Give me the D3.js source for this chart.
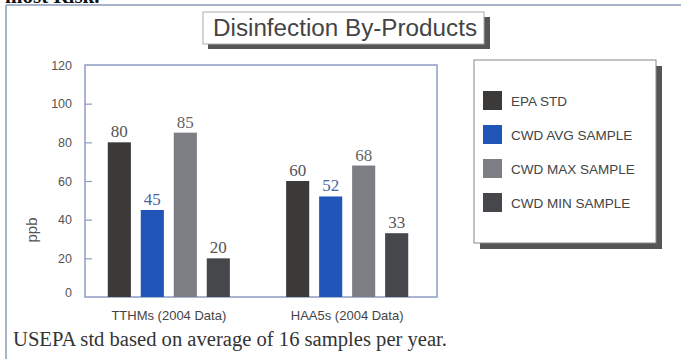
<!DOCTYPE html>
<html>
<head>
<meta charset="utf-8">
<script src="https://cdn.jsdelivr.net/npm/d3@7"></script>
<style>
  html, body { margin: 0; padding: 0; background: #fff; }
  svg { display: block; }
</style>
</head>
<body>
<svg id="chart" width="681" height="359"></svg>
<script>
// chart data
const groups = ['TTHMs (2004 Data)', 'HAA5s (2004 Data)'];
const seriesNames = ['EPA STD', 'CWD AVG SAMPLE', 'CWD MAX SAMPLE', 'CWD MIN SAMPLE'];
const tthmValues = [80, 45, 85, 20];
const haa5Values = [60, 52, 68, 33];
const yTicks = [0, 20, 40, 60, 80, 100, 120];
const seriesColors = ['#3c3a38', '#1f56b8', '#7d7e83', '#45474a'];
const labelColors = ['#555', '#4a64a0', '#666', '#555'];

const sans = '"Liberation Sans", Arial, sans-serif';
const serif = '"Liberation Serif", "Times New Roman", serif';

const svg = d3.select('#chart');

// page text cut off at the top
svg.append('text')
  .attr('x', 5).attr('y', 3)
  .attr('font-family', serif).attr('font-weight', 'bold').attr('font-size', 21)
  .attr('fill', '#111')
  .text('most Risk.');

// outer frame lines
svg.append('line').attr('x1', 6).attr('x2', 681).attr('y1', 5).attr('y2', 5)
  .attr('stroke', '#8d9bb8').attr('stroke-width', 1.5);
svg.append('line').attr('x1', 6).attr('x2', 6).attr('y1', 5).attr('y2', 359)
  .attr('stroke', '#8d9bb8').attr('stroke-width', 1.5);

// title box with shadow
svg.append('rect').attr('x', 208).attr('y', 17).attr('width', 282).attr('height', 32)
  .attr('fill', '#555');
svg.append('rect').attr('x', 203).attr('y', 12).attr('width', 281).attr('height', 32)
  .attr('fill', '#fff').attr('stroke', '#aaa').attr('stroke-width', 1);
svg.append('text')
  .attr('x', 213).attr('y', 36)
  .attr('font-family', sans).attr('font-size', 23)
  .attr('textLength', 264).attr('lengthAdjust', 'spacingAndGlyphs')
  .attr('fill', '#444')
  .text('Disinfection By-Products');

// plot area
const plot = {left: 85, right: 437, top: 65, bottom: 297};

const y = d3.scaleLinear().domain([0, 120]).range([plot.bottom, plot.top]);
const x0 = d3.scalePoint().domain(groups).range([plot.left, 431]).padding(0.47);
const x1 = d3.scaleBand().domain(seriesNames).range([-66, 66])
  .paddingInner(0.3).paddingOuter(0.15);

svg.append('rect')
  .attr('x', plot.left).attr('y', plot.top)
  .attr('width', plot.right - plot.left).attr('height', plot.bottom - plot.top)
  .attr('fill', 'none').attr('stroke', '#8c9cc2').attr('stroke-width', 1.5);

// y axis with inner ticks
const yAxis = svg.append('g')
  .attr('transform', `translate(${plot.left},0)`)
  .call(d3.axisLeft(y).tickValues(yTicks).tickSize(-7).tickPadding(13));
yAxis.select('.domain').remove();
yAxis.selectAll('.tick line')
  .attr('stroke', '#8c9cc2').attr('stroke-width', 1.2)
  .filter(d => d === 0 || d === 120).remove();
yAxis.selectAll('.tick text')
  .attr('font-family', sans).attr('font-size', 12.5).attr('fill', '#555')
  .attr('dy', d => d === 0 ? '-0.05em' : '0.32em');

svg.append('text')
  .attr('transform', 'translate(37,230) rotate(-90)')
  .attr('text-anchor', 'middle')
  .attr('font-family', sans).attr('font-size', 15).attr('fill', '#555')
  .text('ppb');

// bars
const rows = groups.map((g, gi) => ({
  group: g,
  values: gi === 0 ? tthmValues : haa5Values
}));

const groupG = svg.selectAll('.group')
  .data(rows)
  .enter().append('g')
  .attr('class', 'group')
  .attr('transform', d => `translate(${x0(d.group)},0)`);

const cells = d => d.values.map((v, i) => ({name: seriesNames[i], value: v, i}));

groupG.selectAll('rect')
  .data(cells)
  .enter().append('rect')
  .attr('x', d => x1(d.name))
  .attr('y', d => y(d.value))
  .attr('width', x1.bandwidth())
  .attr('height', d => y(0) - y(d.value))
  .attr('fill', d => seriesColors[d.i]);

groupG.selectAll('.value')
  .data(cells)
  .enter().append('text')
  .attr('class', 'value')
  .attr('x', d => x1(d.name) + x1.bandwidth() / 2)
  .attr('y', d => y(d.value) - 5)
  .attr('text-anchor', 'middle')
  .attr('font-family', serif).attr('font-size', 17)
  .attr('fill', d => labelColors[d.i])
  .text(d => d.value);

// x category labels
svg.selectAll('.xlabel')
  .data(groups)
  .enter().append('text')
  .attr('class', 'xlabel')
  .attr('x', d => x0(d))
  .attr('y', 320)
  .attr('text-anchor', 'middle')
  .attr('font-family', sans).attr('font-size', 13).attr('fill', '#444')
  .text(d => d);

// legend with shadow
const legend = {x: 474, y: 60, w: 182, h: 183};
svg.append('rect').attr('x', legend.x + 6).attr('y', legend.y + 6)
  .attr('width', legend.w).attr('height', legend.h).attr('fill', '#555');
svg.append('rect').attr('x', legend.x).attr('y', legend.y)
  .attr('width', legend.w).attr('height', legend.h)
  .attr('fill', '#fff').attr('stroke', '#888').attr('stroke-width', 1);

const legY = d3.scalePoint().domain(seriesNames).range([101, 203]);
const item = svg.selectAll('.leg')
  .data(seriesNames)
  .enter().append('g')
  .attr('class', 'leg')
  .attr('transform', d => `translate(483,${legY(d)})`);
item.append('rect')
  .attr('x', 0).attr('y', -10).attr('width', 19).attr('height', 19)
  .attr('fill', (d, i) => seriesColors[i]);
item.append('text')
  .attr('x', 28).attr('y', 0).attr('dy', '0.35em')
  .attr('font-family', sans).attr('font-size', 13.5).attr('fill', '#444')
  .text(d => d);

// footnote
svg.append('text')
  .attr('x', 13).attr('y', 346)
  .attr('font-family', serif).attr('font-size', 20).attr('fill', '#333')
  .attr('textLength', 434).attr('lengthAdjust', 'spacingAndGlyphs')
  .text('USEPA std based on average of 16 samples per year.');
</script>
</body>
</html>
